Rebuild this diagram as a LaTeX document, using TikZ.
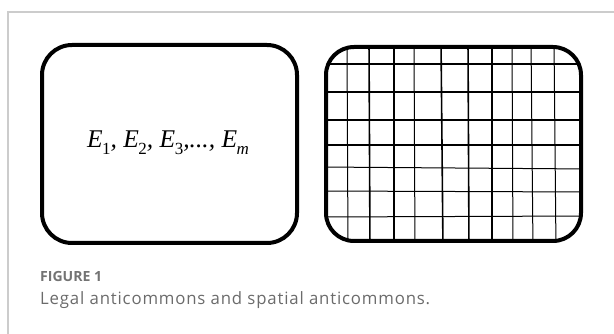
\documentclass[tikz,border=0pt]{standalone}
\usepackage{fontspec}
\usepackage{graphicx}
\newfontfamily\tnr{Liberation Serif}
\newfontfamily\capfont{Open Sans}
\newcommand{\Es}[1]{E\kern-0.02em\raisebox{-0.28em}{\fontsize{17}{17}\selectfont #1}}
\begin{document}
\begin{tikzpicture}[x=1pt,y=-1pt,
  framestyle/.style={draw=black!20,line width=1.3pt},
  boxstyle/.style={draw=black,line width=4pt,rounded corners=30pt,rectangle,inner sep=0pt},
  thickgrid/.style={line width=1.6pt},
  thingrid/.style={line width=1pt}]
\useasboundingbox (0,0) rectangle (614,334);
% outer frame (top and left sides)
\coordinate (frameTL) at (8,12);
\coordinate (frameTR) at (614,12);
\coordinate (frameBL) at (8,334);
\draw[framestyle] (frameTR) -- (frameTL) -- (frameBL);
% left box
\node[boxstyle,minimum width=255pt,minimum height=198pt] (legal) at (169.5,144) {};
\node[font=\tnr\itshape\fontsize{25.5}{26}\selectfont] (elist) at (168,143)
  {\Es{\upshape 1}, \Es{\upshape 2}, \Es{\upshape 3},..., \Es{m}};
% right box with grid
\node[rectangle,minimum width=255pt,minimum height=194pt,inner sep=0pt] (spatial) at (453.5,144) {};
\begin{scope}
\clip[rounded corners=28pt] (spatial.north west) rectangle (spatial.south east);
\foreach \x/\xb/\s in {347/348/thingrid,369/370/thickgrid,394/394/thickgrid,414/415/thingrid,441/443/thickgrid,468/469/thickgrid,492/492/thickgrid,512/513/thingrid,531/533/thingrid,554/556/thingrid}
  \draw[\s] (\x,40) -- (\xb,250);
\foreach \y/\yb/\s in {64/64/thickgrid,92/92/thickgrid,120/120/thickgrid,145/145/thickgrid,167/169/thingrid,191/192/thingrid,217/216/thingrid}
  \draw[\s] (320,\y) -- (590,\yb);
\end{scope}
\node[boxstyle,minimum width=255pt,minimum height=194pt,rounded corners=28pt] at (spatial) {};
% caption
\node[anchor=base west,inner sep=0pt,text=black!55,font=\capfont\bfseries\fontsize{14}{15}\selectfont] (figlabel) at (40,281) {\resizebox{62pt}{\height}{FIGURE 1}};
\node[anchor=base west,inner sep=0pt,text=black!58,font=\capfont\fontsize{17}{18}\selectfont] (figcap) at (40,305) {\resizebox{390pt}{\height}{\addfontfeatures{LetterSpace=5}Legal anticommons and spatial anticommons.}};
\end{tikzpicture}
\end{document}
